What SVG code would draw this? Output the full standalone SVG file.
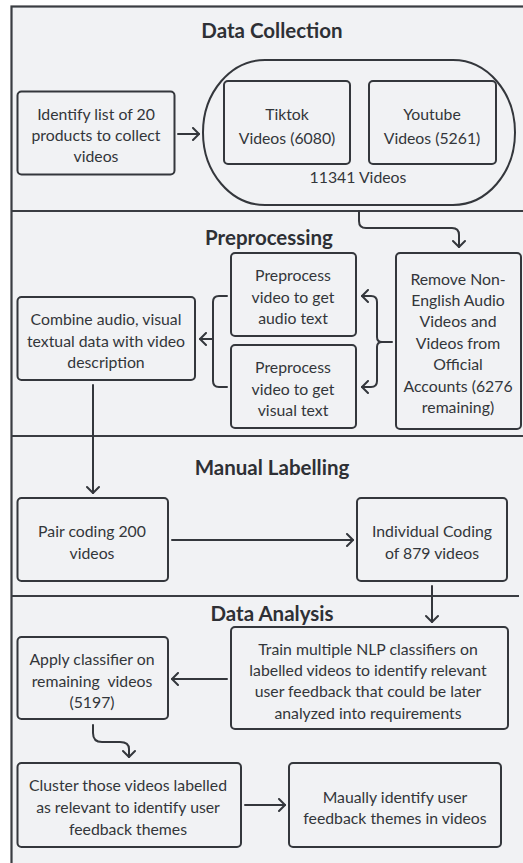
<svg xmlns="http://www.w3.org/2000/svg" width="523" height="863" viewBox="0 0 523 863">
<style>
.bx{fill:none;stroke:#34373c;stroke-width:2}
.t{font-family:Lato,"Noto Sans",sans-serif;font-size:15.8px;fill:#33363a;text-anchor:middle;dominant-baseline:central}
.h{font-family:Lato,"Noto Sans",sans-serif;font-size:20.5px;font-weight:bold;fill:#2e3035;text-anchor:middle;dominant-baseline:central}
.c{fill:none;stroke:#34373c;stroke-width:2;stroke-linecap:round;stroke-linejoin:round}
.sep{stroke:#3a3d42;stroke-width:2}
</style>
<defs>
<marker id="ah" viewBox="0 0 10 14" refX="9" refY="7" markerWidth="10" markerHeight="14" markerUnits="userSpaceOnUse" orient="auto">
<path d="M3,1 L9,7 L3,13" fill="none" stroke="#34373c" stroke-width="2" stroke-linecap="round" stroke-linejoin="round"/>
</marker>
</defs>
<rect width="523" height="863" fill="#ffffff"/>
<rect x="11.5" y="6.5" width="540" height="880" fill="#f1f2f4" stroke="#3a3d42" stroke-width="2.2"/>
<g id="separators">
<line class="sep" x1="12" y1="211" x2="523" y2="211"/>
<line class="sep" x1="12" y1="436" x2="523" y2="436"/>
<line class="sep" x1="12" y1="596" x2="519" y2="596"/>
</g>
<g id="titles">
<text class="h" x="272" y="30">Data Collection</text>
<text class="h" x="269" y="237">Preprocessing</text>
<text class="h" x="272" y="467">Manual Labelling</text>
<text class="h" x="272" y="613">Data Analysis</text>
</g>
<g id="identify">
<rect class="bx" x="17.5" y="91.5" width="157" height="83" rx="4"/>
<text class="t" x="96" y="113">Identify list of 20</text>
<text class="t" x="96" y="134">products to collect</text>
<text class="t" x="96" y="155">videos</text>
</g>
<g id="videos-group">
<rect class="bx" x="203" y="60" width="312" height="145" rx="62" ry="72.5"/>
<text class="t" x="358" y="176">11341 Videos</text>
</g>
<g id="tiktok">
<rect class="bx" x="224" y="81" width="126" height="83" rx="4"/>
<text class="t" x="287" y="113">Tiktok</text>
<text class="t" x="287" y="137">Videos (6080)</text>
</g>
<g id="youtube">
<rect class="bx" x="369" y="81" width="127" height="83" rx="4"/>
<text class="t" x="432" y="113">Youtube</text>
<text class="t" x="432" y="137">Videos (5261)</text>
</g>
<g id="remove">
<rect class="bx" x="396" y="253" width="125" height="176" rx="4"/>
<text class="t" x="458" y="278">Remove Non-</text>
<text class="t" x="458" y="299">English Audio</text>
<text class="t" x="458" y="320">Videos and</text>
<text class="t" x="458" y="342">Videos from</text>
<text class="t" x="458" y="363">Official</text>
<text class="t" x="458" y="385">Accounts (6276</text>
<text class="t" x="458" y="406">remaining)</text>
</g>
<g id="audio">
<rect class="bx" x="231" y="253" width="125" height="83" rx="4"/>
<text class="t" x="293" y="274">Preprocess</text>
<text class="t" x="293" y="296">video to get</text>
<text class="t" x="293" y="317">audio text</text>
</g>
<g id="visual">
<rect class="bx" x="231" y="345" width="125" height="83" rx="4"/>
<text class="t" x="293" y="366">Preprocess</text>
<text class="t" x="293" y="388">video to get</text>
<text class="t" x="293" y="409">visual text</text>
</g>
<g id="combine">
<rect class="bx" x="17.5" y="297" width="177.5" height="83" rx="4"/>
<text class="t" x="106" y="318">Combine audio, visual</text>
<text class="t" x="106" y="340">textual data with video</text>
<text class="t" x="106" y="361">description</text>
</g>
<g id="pair">
<rect class="bx" x="17.5" y="498" width="150.5" height="83" rx="4"/>
<text class="t" x="92" y="530">Pair coding 200</text>
<text class="t" x="92" y="552">videos</text>
</g>
<g id="individual">
<rect class="bx" x="357" y="498" width="150" height="83" rx="4"/>
<text class="t" x="432" y="530">Individual Coding</text>
<text class="t" x="432" y="552">of 879 videos</text>
</g>
<g id="train">
<rect class="bx" x="231" y="627" width="277" height="102" rx="4"/>
<text class="t" x="368" y="648">Train multiple NLP classifiers on</text>
<text class="t" x="368" y="669">labelled videos to identify relevant</text>
<text class="t" x="368" y="690">user feedback that could be later</text>
<text class="t" x="368" y="712">analyzed into requirements</text>
</g>
<g id="apply">
<rect class="bx" x="17.5" y="637" width="150.5" height="82" rx="4"/>
<text class="t" x="92" y="658">Apply classifier on</text>
<text class="t" x="92" y="680" xml:space="preserve">remaining  videos</text>
<text class="t" x="92" y="701">(5197)</text>
</g>
<g id="cluster">
<rect class="bx" x="17.5" y="763" width="223.5" height="84" rx="4"/>
<text class="t" x="128" y="784">Cluster those videos labelled</text>
<text class="t" x="128" y="806">as relevant to identify user</text>
<text class="t" x="128" y="828">feedback themes</text>
</g>
<g id="manual">
<rect class="bx" x="289" y="763" width="212" height="84" rx="4"/>
<text class="t" x="395" y="796">Maually identify user</text>
<text class="t" x="395" y="817">feedback themes in videos</text>
</g>
<g id="connectors">
<path class="c" d="M178,134 H199" marker-end="url(#ah)"/>
<path class="c" d="M359,211 V221 Q359,228 366,228 H452 Q459,228 459,235 V247" marker-end="url(#ah)"/>
<path class="c" d="M392,342 H382 Q377,342 377,337 V302 Q377,296 371,296 H362" marker-end="url(#ah)"/>
<path class="c" d="M382,342 Q377,342 377,347 V381 Q377,387 371,387 H362" marker-end="url(#ah)"/>
<path class="c" d="M227,296 H219 Q213,296 213,302 V381 Q213,387 219,387 H227"/>
<path class="c" d="M213,339 H200" marker-end="url(#ah)"/>
<path class="c" d="M93,385 V493" marker-end="url(#ah)"/>
<path class="c" d="M172,540 H353" marker-end="url(#ah)"/>
<path class="c" d="M432,586 V622" marker-end="url(#ah)"/>
<path class="c" d="M227,679 H172" marker-end="url(#ah)"/>
<path class="c" d="M93,725 V733 Q93,742 102,742 H120 Q129,742 129,749 V757" marker-end="url(#ah)"/>
<path class="c" d="M245,805 H285" marker-end="url(#ah)"/>
</g>
</svg>
